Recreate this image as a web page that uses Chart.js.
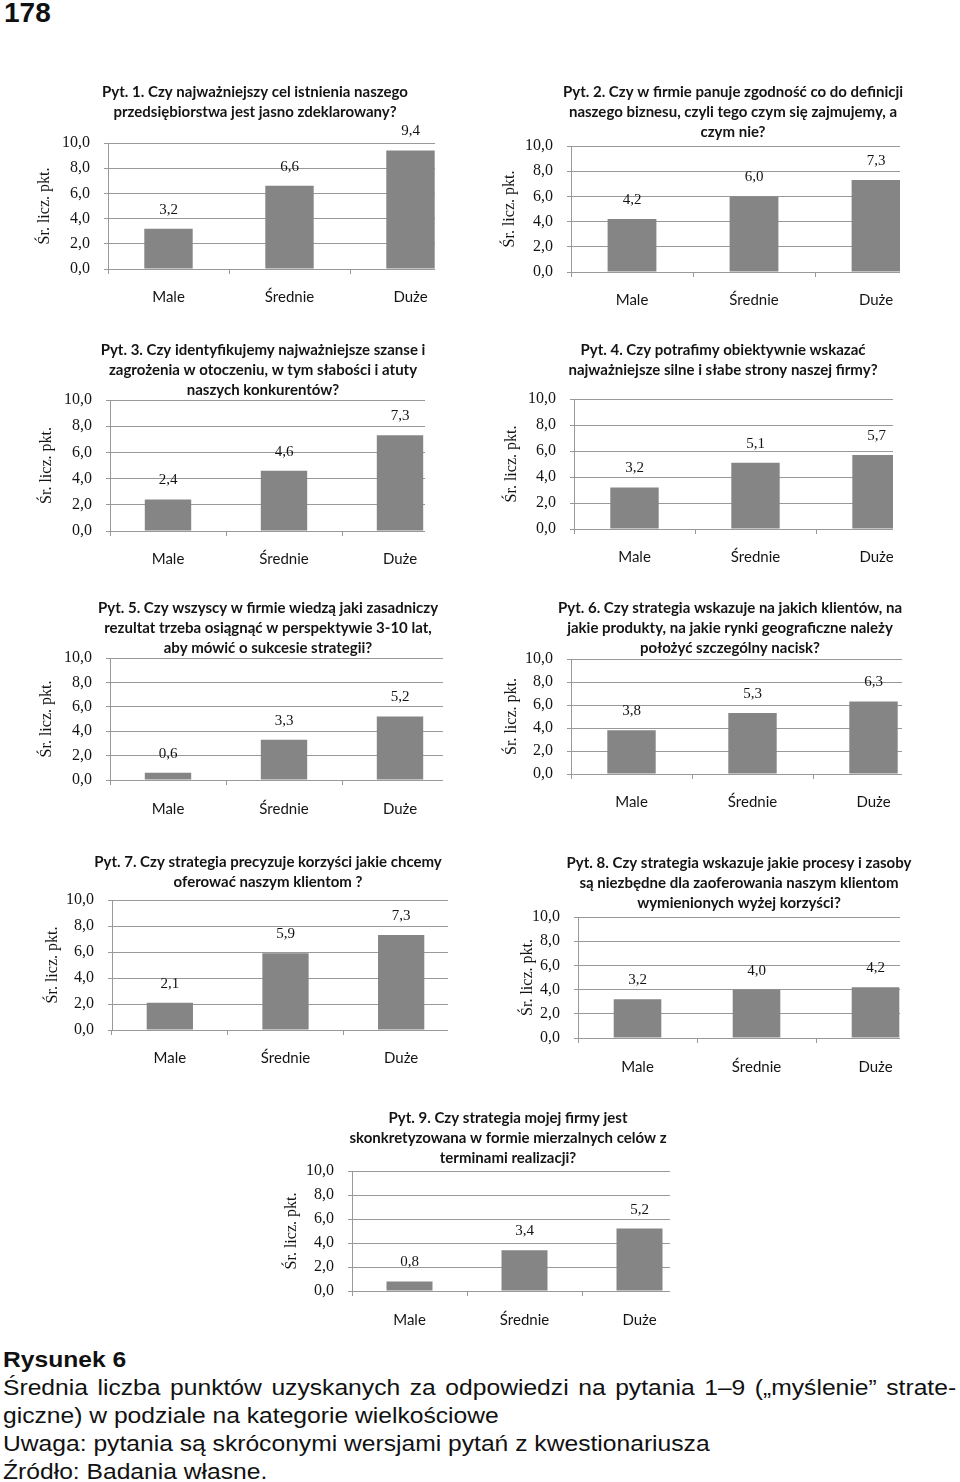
<!DOCTYPE html>
<html>
<head>
<meta charset="utf-8">
<script src="https://cdn.jsdelivr.net/npm/chart.js@4.4.1/dist/chart.umd.min.js"></script>
<style>
    body { margin: 0; width: 960px; height: 1482px; overflow: hidden; background: #fff; position: relative; }
    .box { position: absolute; }
    .box canvas { display: block; }
    #page { position: absolute; left: 4px; top: -3px; font: bold 28px 'Liberation Sans', Arial, sans-serif; color: #111; }
    #caption { position: absolute; left: 3px; top: 1346px; width: 851px; transform: scaleX(1.12); transform-origin: 0 0;
        font-family: 'Liberation Sans', Arial, sans-serif; font-size: 22px; line-height: 28px; color: #111; }
    #caption b { display: block; }
    #caption .just { display: block; text-align: justify; text-align-last: justify; }
</style>
</head>
<body>
<div id="page">178</div>
<div id="charts"></div>
<div id="caption">
    <b>Rysunek 6</b>
    <span class="just">Średnia liczba punktów uzyskanych za odpowiedzi na pytania 1–9 („myślenie” strate-</span>
    giczne) w podziale na kategorie wielkościowe<br>
    Uwaga: pytania są skróconymi wersjami pytań z kwestionariusza<br>
    Źródło: Badania własne.
</div>
<script>
// data
var categories = ['Male', 'Średnie', 'Duże'];
var yTickValues = [0, 2, 4, 6, 8, 10];

var q1 = [3.2, 6.6, 9.4];
var q2 = [4.2, 6.0, 7.3];
var q3 = [2.4, 4.6, 7.3];
var q4 = [3.2, 5.1, 5.7];
var q5 = [0.6, 3.3, 5.2];
var q6 = [3.8, 5.3, 6.3];
var q7 = [2.1, 5.9, 7.3];
var q8 = [3.2, 4.0, 4.2];
var q9 = [0.8, 3.4, 5.2];

var t1 = ['Pyt. 1. Czy najważniejszy cel istnienia naszego', 'przedsiębiorstwa jest jasno zdeklarowany?'];
var t2 = ['Pyt. 2. Czy w firmie panuje zgodność co do definicji', 'naszego biznesu, czyli tego czym się zajmujemy, a', 'czym nie?'];
var t3 = ['Pyt. 3. Czy identyfikujemy najważniejsze szanse i', 'zagrożenia w otoczeniu, w tym słabości i atuty', 'naszych konkurentów?'];
var t4 = ['Pyt. 4. Czy potrafimy obiektywnie wskazać', 'najważniejsze silne i słabe strony naszej firmy?'];
var t5 = ['Pyt. 5. Czy wszyscy w firmie wiedzą jaki zasadniczy', 'rezultat trzeba osiągnąć w perspektywie 3-10 lat,', 'aby mówić o sukcesie strategii?'];
var t6 = ['Pyt. 6. Czy strategia wskazuje na jakich klientów, na', 'jakie produkty, na jakie rynki geograficzne należy', 'położyć szczególny nacisk?'];
var t7 = ['Pyt. 7. Czy strategia precyzuje korzyści jakie chcemy', 'oferować naszym klientom ?'];
var t8 = ['Pyt. 8. Czy strategia wskazuje jakie procesy i zasoby', 'są niezbędne dla zaoferowania naszym klientom', 'wymienionych wyżej korzyści?'];
var t9 = ['Pyt. 9. Czy strategia mojej firmy jest', 'skonkretyzowana w formie mierzalnych celów z', 'terminami realizacji?'];

var yTitle = 'Śr. licz. pkt.';

// where each little chart sits on the page (axis x, category width, plot top/bottom, crop, title centre, label line, y title gap)
var panels = [
    { v: q1, t: t1, axis: 108, cat: 121, top: 143, bottom: 269, crop: 435, tx: 255, ty: 92, ly: 297, gap: 63 },
    { v: q2, t: t2, axis: 571, cat: 122, top: 146, bottom: 272, crop: 900, tx: 733, ty: 92, ly: 300, gap: 61 },
    { v: q3, t: t3, axis: 110, cat: 116, top: 400, bottom: 531, crop: 425, tx: 263, ty: 350, ly: 559, gap: 63 },
    { v: q4, t: t4, axis: 574, cat: 121, top: 399, bottom: 529, crop: 893, tx: 723, ty: 350, ly: 557, gap: 62 },
    { v: q5, t: t5, axis: 110, cat: 116, top: 658, bottom: 780, crop: 443, tx: 268, ty: 608, ly: 809, gap: 63 },
    { v: q6, t: t6, axis: 571, cat: 121, top: 659, bottom: 774, crop: 902, tx: 730, ty: 608, ly: 802, gap: 59 },
    { v: q7, t: t7, axis: 112, cat: 115.5, top: 900, bottom: 1030, crop: 448, tx: 268, ty: 862, ly: 1058, gap: 59 },
    { v: q8, t: t8, axis: 578, cat: 119, top: 917, bottom: 1038, crop: 900, tx: 739, ty: 863, ly: 1067, gap: 50 },
    { v: q9, t: t9, axis: 352, cat: 115, top: 1171, bottom: 1291, crop: 670, tx: 508, ty: 1118, ly: 1320, gap: 60 }
];

var GRID = '#999999';
var BAR = '#858585';
var INK = '#141414';
var YW = 75;

function comma(v) {
    return Number(v).toFixed(1).replace('.', ',');
}

// the scan cuts every plot off at the right edge of the last bar
var cropRight = {
    id: 'cropRight',
    beforeDraw: function (chart, args, opts) {
        var ctx = chart.ctx;
        ctx.save();
        ctx.beginPath();
        ctx.rect(0, 0, opts.x, chart.height);
        ctx.clip();
    },
    afterDraw: function (chart) {
        chart.ctx.restore();
    }
};

var headline = {
    id: 'headline',
    afterDraw: function (chart, args, opts) {
        var ctx = chart.ctx;
        ctx.save();
        ctx.font = 'bold 15px Lato, "Open Sans", sans-serif';
        ctx.fillStyle = INK;
        ctx.textAlign = 'center';
        ctx.textBaseline = 'middle';
        opts.lines.forEach(function (line, i) {
            ctx.fillText(line, opts.x, opts.y + i * 20);
        });
        ctx.restore();
    }
};

var valueLabels = {
    id: 'valueLabels',
    afterDatasetsDraw: function (chart) {
        var ctx = chart.ctx;
        var values = chart.data.datasets[0].data;
        ctx.save();
        ctx.font = '15px "Liberation Serif", serif';
        ctx.fillStyle = INK;
        ctx.textAlign = 'center';
        ctx.textBaseline = 'middle';
        chart.getDatasetMeta(0).data.forEach(function (bar, i) {
            ctx.fillText(comma(values[i]), bar.x, bar.y - 19);
        });
        ctx.restore();
    }
};

var holder = document.getElementById('charts');

panels.forEach(function (p) {
    var left = p.axis - YW;
    var top = p.ty - 14;
    var bottom = p.ly + 14;
    var w = Math.round(p.axis + 3 * p.cat - left);
    var h = bottom - top;

    var box = document.createElement('div');
    box.className = 'box';
    box.style.left = left + 'px';
    box.style.top = top + 'px';
    var canvas = document.createElement('canvas');
    canvas.width = w;
    canvas.height = h;
    box.appendChild(canvas);
    holder.appendChild(box);

    new Chart(canvas.getContext('2d'), {
        type: 'bar',
        data: {
            labels: categories,
            datasets: [{
                data: p.v,
                backgroundColor: BAR,
                borderWidth: 0,
                barPercentage: 0.4,
                categoryPercentage: 1
            }]
        },
        plugins: [cropRight, headline, valueLabels],
        options: {
            responsive: false,
            animation: false,
            devicePixelRatio: 1,
            layout: {
                padding: { top: p.top - top, left: 0, right: 0, bottom: 0 }
            },
            scales: {
                x: {
                    offset: true,
                    grid: { display: true, drawOnChartArea: false, drawTicks: true, tickLength: 5, offset: true, color: GRID },
                    border: { display: true, color: GRID },
                    ticks: {
                        color: INK,
                        padding: p.ly - p.bottom - 13,
                        font: { family: 'Lato, "Open Sans", sans-serif', size: 15, lineHeight: '16px' }
                    },
                    afterFit: function (s) { s.height = bottom - p.bottom; }
                },
                y: {
                    min: 0,
                    max: 10,
                    afterBuildTicks: function (s) {
                        s.ticks = yTickValues.map(function (v) { return { value: v }; });
                    },
                    grid: { color: GRID, tickLength: 4, drawTicks: true },
                    border: { display: true, color: GRID },
                    ticks: {
                        color: INK,
                        padding: 14,
                        font: { family: '"Liberation Serif", serif', size: 16 },
                        callback: function (value) { return comma(value); }
                    },
                    title: {
                        display: true,
                        text: yTitle,
                        color: INK,
                        padding: { top: YW - p.gap - 8, bottom: 0 },
                        font: { family: '"Liberation Serif", serif', size: 16, lineHeight: '16px' }
                    },
                    afterFit: function (s) { s.width = YW; }
                }
            },
            plugins: {
                legend: { display: false },
                tooltip: { enabled: false },
                cropRight: { x: p.crop - left },
                headline: { lines: p.t, x: p.tx - left, y: p.ty - top }
            }
        }
    });
});
</script>
</body>
</html>
